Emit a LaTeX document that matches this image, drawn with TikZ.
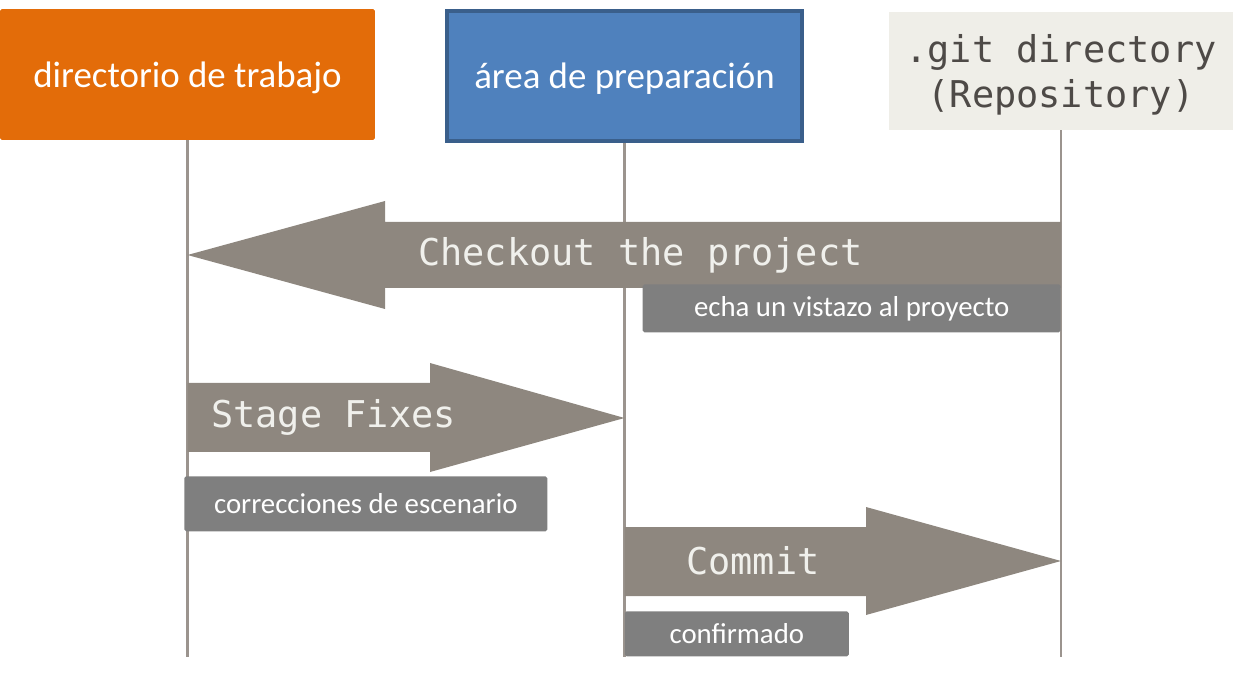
\documentclass[tikz,border=0pt]{standalone}
\usepackage{fontspec}
\setmainfont{Carlito}
\newfontfamily\gitmono{DejaVu Sans Mono}
\usetikzlibrary{positioning}

\definecolor{wdorange}{HTML}{E36C09}
\definecolor{stageblue}{HTML}{4F81BD}
\definecolor{stageborder}{HTML}{3A5F8B}
\definecolor{repobeige}{HTML}{EFEEE8}
\definecolor{repotext}{HTML}{4E4A47}
\definecolor{lanegray}{HTML}{9B948E}
\definecolor{arrowgray}{HTML}{8E877F}
\definecolor{arrowtext}{HTML}{F0F0EC}
\definecolor{taggray}{HTML}{7F7F7F}

\begin{document}
\begin{tikzpicture}[x=0.02cm, y=-0.02cm,
    header/.style={text=white, font=\fontsize{21}{25}\selectfont, inner sep=0pt, text depth=0pt},
    lane/.style={draw=lanegray, line width=1.5pt},
    bigarrow/.style={fill=arrowgray},
    arrowlabel/.style={text=arrowtext, font=\gitmono\fontsize{21}{25}\selectfont, anchor=west, inner sep=0pt},
    tag/.style={fill=taggray, text=white, rounded corners=1pt, font=\fontsize{16.4}{19}\selectfont, inner sep=0pt}]
    \useasboundingbox (0,0) rectangle (1252,689);

    % the three areas
    \node[header, fill=wdorange, rounded corners=1pt, minimum width=7.5cm, minimum height=2.62cm] (wd) at (187.5,74.5) {directorio de trabajo};
    \node[header, fill=stageblue, draw=stageborder, line width=2.3pt, minimum width=7.12cm, minimum height=2.6cm] (stage) at (624.5,76) {área de preparación};
    \node[fill=repobeige, text=repotext, font=\gitmono\fontsize{21}{25.5}\selectfont, align=center, inner sep=0pt, text depth=0pt, minimum width=6.9cm, minimum height=2.36cm] (repo) at (1061,71) {.git directory\\(Repository)};

    \coordinate (bottom) at (0,657);
    \draw[lane] (wd.south) -- (wd.south |- bottom);
    \draw[lane] (stage.south) -- (stage.south |- bottom);
    \draw[lane] (repo.south) -- (repo.south |- bottom);

    % operations
    \fill[bigarrow] (repo.south |- 0,222) -- (385,222) -- (385,201) -- (wd.south |- 0,255)
        -- (385,309) -- (385,288) -- (repo.south |- 0,288) -- cycle;
    \node[arrowlabel] (checkout) at (418,255) {Checkout the project};

    \fill[bigarrow] (wd.south |- 0,383) -- (430,383) -- (430,363) -- (stage.south |- 0,418)
        -- (430,472) -- (430,452) -- (wd.south |- 0,452) -- cycle;
    \node[arrowlabel] (fixes) at (211,417) {Stage Fixes};

    \fill[bigarrow] (stage.south |- 0,527) -- (866,527) -- (866,507) -- (repo.south |- 0,561)
        -- (866,615) -- (866,596) -- (stage.south |- 0,596) -- cycle;
    \node[arrowlabel] (commit) at (686,561) {Commit};

    % translations
    \node[tag, anchor=north east, minimum width=8.36cm, minimum height=0.96cm] (checkouttag) at (repo.south |- 0,284) {echa un vistazo al proyecto};
    \node[tag, anchor=north west, minimum width=7.26cm, minimum height=1.1cm] (fixestag) at (184,476) {correcciones de escenario};
    \node[tag, anchor=north west, minimum width=4.48cm, minimum height=0.9cm] (committag) at (stage.south |- 0,611) {confirmado};
\end{tikzpicture}
\end{document}
